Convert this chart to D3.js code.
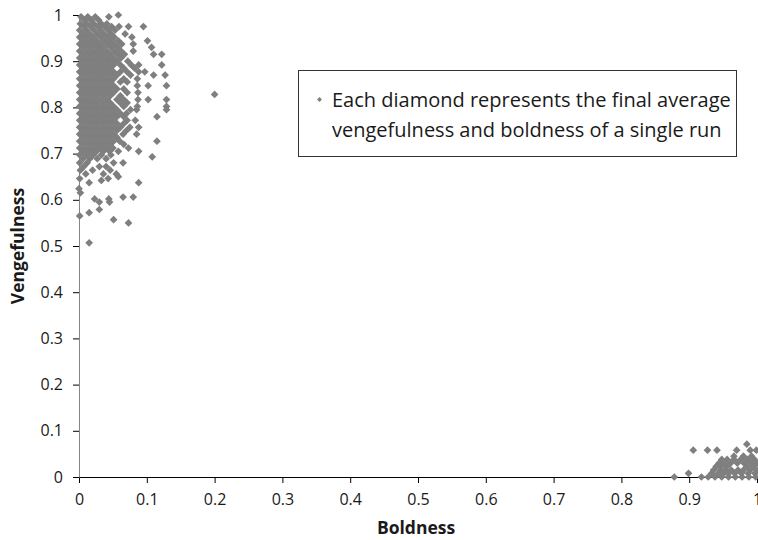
<!DOCTYPE html>
<html>
<head>
<meta charset="utf-8">
<script src="https://cdn.jsdelivr.net/npm/d3@7"></script>
<style>
  body { margin: 0; background: #fff; }
  text { font-family: "Open Sans", "DejaVu Sans", sans-serif; fill: #1a1a1a; }
</style>
</head>
<body>
<script>
// axis ticks
const tickValues = [0, 0.1, 0.2, 0.3, 0.4, 0.5, 0.6, 0.7, 0.8, 0.9, 1];
const tickLabels = ['0', '0.1', '0.2', '0.3', '0.4', '0.5', '0.6', '0.7', '0.8', '0.9', '1'];

const xTitle = 'Boldness',
      yTitle = 'Vengefulness',
      legendLines = ['Each diamond represents the final average',
                     'vengefulness and boldness of a single run'];

// runs that ended with low boldness, grouped by vengefulness: [vengefulness, [boldness, ...]]
const lowBoldnessRuns = [
  [1.000, [0.058]],
  [0.996, [0.003, 0.013, 0.024, 0.044]],
  [0.989, [0.008, 0.018, 0.029]],
  [0.981, [0.002, 0.012, 0.022, 0.033, 0.041]],
  [0.975, [0.007, 0.017, 0.028, 0.038, 0.048, 0.059, 0.073, 0.095]],
  [0.967, [0.001, 0.011, 0.022, 0.032, 0.043, 0.053]],
  [0.959, [0.006, 0.016, 0.027, 0.037, 0.047, 0.068]],
  [0.952, [0.001, 0.011, 0.021, 0.032, 0.042, 0.052, 0.078]],
  [0.944, [0.006, 0.016, 0.026, 0.037, 0.047, 0.058, 0.101]],
  [0.937, [0.001, 0.011, 0.021, 0.031, 0.042, 0.052, 0.063, 0.080]],
  [0.930, [0.006, 0.016, 0.026, 0.036, 0.047, 0.057, 0.107]],
  [0.922, [0.001, 0.011, 0.021, 0.031, 0.041, 0.052, 0.062, 0.080]],
  [0.915, [0.006, 0.016, 0.026, 0.036, 0.046, 0.057, 0.067, 0.110, 0.122]],
  [0.907, [0.001, 0.011, 0.021, 0.031, 0.041, 0.051, 0.062]],
  [0.900, [0.006, 0.016, 0.026, 0.036, 0.046, 0.056, 0.072]],
  [0.892, [0.001, 0.011, 0.021, 0.031, 0.041, 0.051, 0.061, 0.077, 0.088, 0.122]],
  [0.885, [0.006, 0.016, 0.026, 0.036, 0.046, 0.066, 0.082]],
  [0.877, [0.001, 0.011, 0.021, 0.031, 0.041, 0.051, 0.061, 0.071, 0.088, 0.097]],
  [0.870, [0.006, 0.016, 0.026, 0.036, 0.046, 0.056, 0.076, 0.110, 0.127]],
  [0.862, [0.001, 0.011, 0.021, 0.031, 0.041, 0.051, 0.066, 0.086]],
  [0.855, [0.006, 0.016, 0.026, 0.036, 0.046, 0.061, 0.071]],
  [0.847, [0.001, 0.011, 0.021, 0.031, 0.041, 0.051, 0.086, 0.102, 0.129]],
  [0.840, [0.006, 0.016, 0.026, 0.036, 0.046, 0.056, 0.066]],
  [0.832, [0.001, 0.011, 0.021, 0.031, 0.041, 0.051, 0.071, 0.087]],
  [0.828, [0.200]],
  [0.825, [0.006, 0.016, 0.026, 0.036, 0.046, 0.061]],
  [0.817, [0.001, 0.011, 0.021, 0.031, 0.041, 0.056, 0.066, 0.087, 0.102, 0.129]],
  [0.810, [0.006, 0.016, 0.026, 0.036, 0.046, 0.061, 0.071]],
  [0.802, [0.001, 0.011, 0.021, 0.031, 0.041, 0.051, 0.066, 0.086, 0.129]],
  [0.795, [0.006, 0.016, 0.026, 0.036, 0.046, 0.056, 0.076, 0.085, 0.129]],
  [0.787, [0.001, 0.011, 0.021, 0.031, 0.041, 0.051, 0.061, 0.070]],
  [0.780, [0.006, 0.016, 0.026, 0.036, 0.046, 0.056, 0.066, 0.115]],
  [0.772, [0.001, 0.011, 0.021, 0.031, 0.041, 0.051, 0.071, 0.083]],
  [0.765, [0.006, 0.016, 0.026, 0.036, 0.046, 0.056, 0.066]],
  [0.757, [0.001, 0.011, 0.021, 0.031, 0.041, 0.051, 0.061, 0.075, 0.088]],
  [0.750, [0.006, 0.016, 0.026, 0.036, 0.046, 0.056, 0.070]],
  [0.742, [0.001, 0.011, 0.021, 0.031, 0.041, 0.051, 0.065, 0.085]],
  [0.735, [0.006, 0.016, 0.026, 0.036, 0.046, 0.056]],
  [0.727, [0.001, 0.011, 0.021, 0.031, 0.041, 0.051, 0.060, 0.115]],
  [0.720, [0.006, 0.016, 0.026, 0.036, 0.046, 0.066]],
  [0.712, [0.001, 0.011, 0.021, 0.031, 0.041, 0.050, 0.073]],
  [0.705, [0.006, 0.016, 0.026, 0.036, 0.045, 0.058, 0.088]],
  [0.697, [0.001, 0.011, 0.021, 0.033, 0.047]],
  [0.693, [0.108]],
  [0.689, [0.006, 0.016, 0.027, 0.040]],
  [0.680, [0.001, 0.012, 0.051, 0.065]],
  [0.672, [0.007, 0.030, 0.040]],
  [0.664, [0.002, 0.020, 0.046]],
  [0.656, [0.010, 0.036, 0.055]],
  [0.650, [0.058]],
  [0.646, [0.001, 0.043]],
  [0.642, [0.033]],
  [0.637, [0.015, 0.088]],
  [0.624, [0.000]],
  [0.615, [0.002]],
  [0.606, [0.065, 0.080]],
  [0.602, [0.023, 0.044]],
  [0.595, [0.030, 0.045]],
  [0.579, [0.030]],
  [0.572, [0.015]],
  [0.565, [0.001]],
  [0.557, [0.051]],
  [0.550, [0.073]],
  [0.507, [0.015]]
];

// runs that ended with high boldness
const highBoldnessRuns = [
  [0.071, [0.985]],
  [0.058, [0.906, 0.927, 0.941, 0.970, 0.990, 0.999]],
  [0.045, [0.966, 0.980, 0.992]],
  [0.038, [0.948, 0.956, 0.966, 0.976, 0.986, 0.996]],
  [0.030, [0.944, 0.951, 0.961, 0.971, 0.981, 0.991, 1.000]],
  [0.023, [0.940, 0.947, 0.956, 0.985, 0.995]],
  [0.015, [0.936, 0.946, 0.953, 0.962, 0.972, 0.980, 0.990, 1.000]],
  [0.008, [0.899, 0.933, 0.943, 0.951, 0.958, 0.967, 0.977, 0.987, 0.997]],
  [0.000, [0.878, 0.918, 0.928, 0.938, 0.948, 0.958, 0.968, 0.978, 0.988, 0.998]]
];

const runs = lowBoldnessRuns.concat(highBoldnessRuns)
  .flatMap(([v, bs]) => bs.map(b => ({boldness: b, vengefulness: v})));

let width = 758,
    height = 540,
    margin = {top: 15, right: 1, bottom: 63, left: 79};

let xScale = d3.scaleLinear([0, 1], [margin.left, width - margin.right]),
    yScale = d3.scaleLinear([0, 1], [height - margin.bottom, margin.top]);

let svg = d3.select('body').append('svg').attr('width', width).attr('height', height);

let xAxis = svg.append('g')
    .attr('transform', `translate(0,${height - margin.bottom})`)
    .call(d3.axisBottom(xScale).tickValues(tickValues)
      .tickFormat((d, i) => tickLabels[i]).tickSize(6).tickSizeOuter(0).tickPadding(10.5));
let yAxis = svg.append('g')
    .attr('transform', `translate(${margin.left},0)`)
    .call(d3.axisLeft(yScale).tickValues(tickValues)
      .tickFormat((d, i) => tickLabels[i]).tickSize(6).tickSizeOuter(0).tickPadding(10));

svg.selectAll('.tick text').style('font-size', '16px').style('fill', '#1a1a1a');
svg.selectAll('.tick line').style('stroke', '#000');
xAxis.select('.domain').style('stroke', '#000');
yAxis.select('.domain').style('stroke', '#868686');

// the diamonds
let diamond = d3.symbol(d3.symbolSquare, 30);
svg.append('g').selectAll('path')
  .data(runs)
  .join('path')
  .attr('transform', d => `translate(${xScale(d.boldness)},${yScale(d.vengefulness)}) rotate(45)`)
  .attr('d', diamond)
  .style('fill', '#7f7f7f');

// axis titles
svg.append('text')
  .attr('x', (xScale(0) + xScale(1)) / 2 - 2)
  .attr('y', 534)
  .attr('text-anchor', 'middle')
  .style('font-size', '17.5px')
  .style('font-weight', 'bold')
  .text(xTitle);

svg.append('text')
  .attr('transform', `translate(24,${(yScale(0) + yScale(1)) / 2}) rotate(-90)`)
  .attr('text-anchor', 'middle')
  .style('font-size', '17.5px')
  .style('font-weight', 'bold')
  .text(yTitle);

// legend box
let legend = svg.append('g').attr('transform', 'translate(298.5,70.5)');
legend.append('rect')
  .attr('width', 438)
  .attr('height', 86)
  .style('fill', '#fff')
  .style('stroke', '#333')
  .style('stroke-width', '1px');
legend.append('path')
  .attr('transform', 'translate(21,29) rotate(45)')
  .attr('d', d3.symbol(d3.symbolSquare, 12))
  .style('fill', '#7f7f7f');
legend.selectAll('text.line')
  .data(legendLines)
  .join('text')
  .attr('class', 'line')
  .attr('x', 33.5)
  .attr('y', (d, i) => 36 + i * 30.6)
  .style('font-size', '20px')
  .text(d => d);
</script>
</body>
</html>
